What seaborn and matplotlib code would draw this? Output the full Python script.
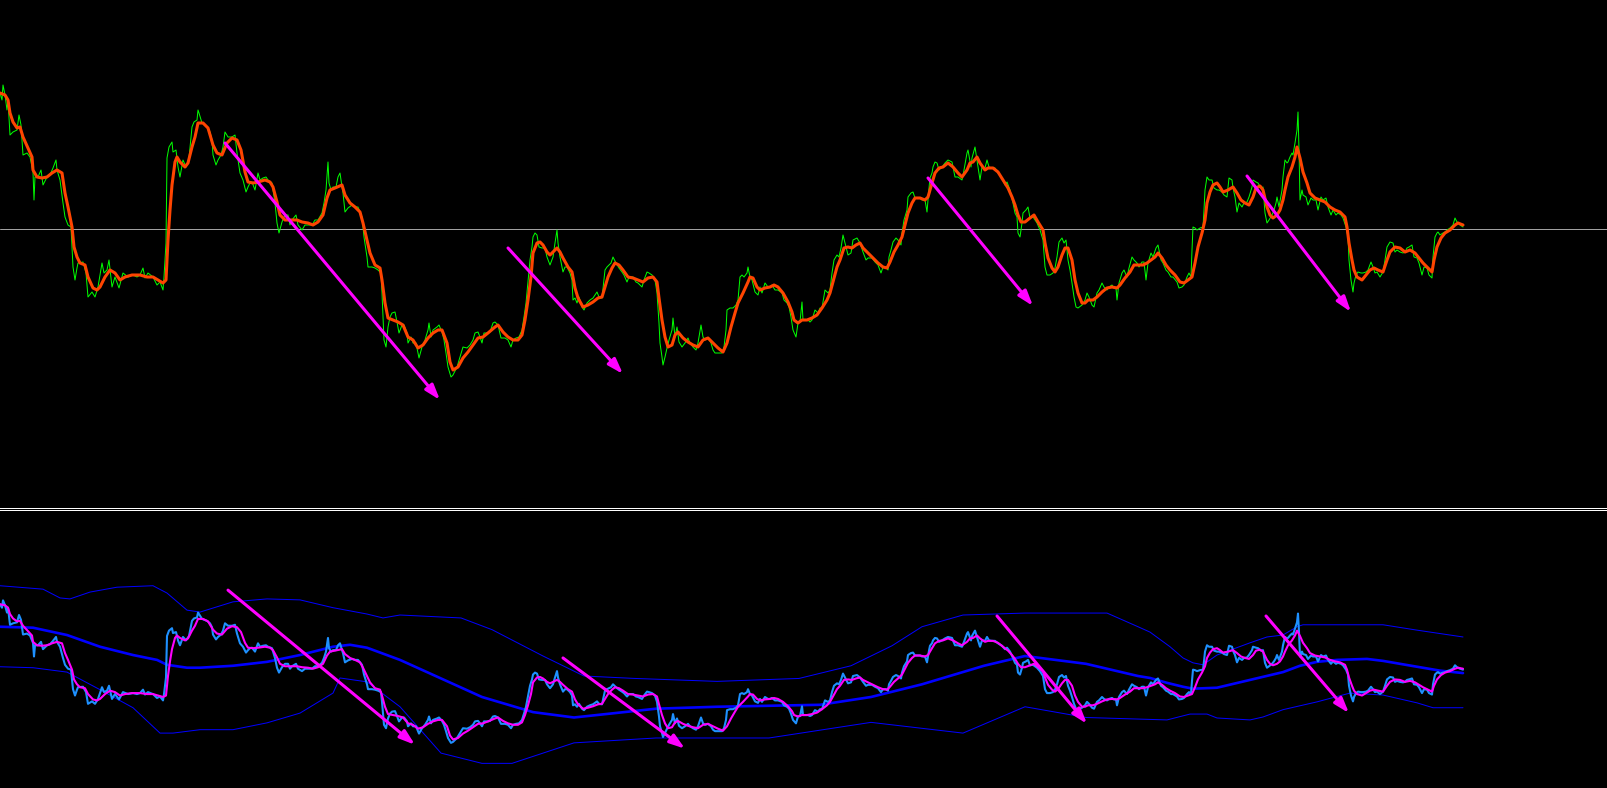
import matplotlib
matplotlib.use("Agg")
import matplotlib.pyplot as plt
import seaborn as sns
import pandas as pd

# ---------------- data (bar index, price) ----------------
price_points = [
(0,407),(2,400),(3,415),(5,405),(7,390),(8,400),(10,365),(13,368),(17,370),(19,385),(21,375),(23,345),
(27,347),(30,343),(33,328),(34,300),(35,323),(38,323),(41,330),(43,315),(47,323),(50,325),(53,332),(56,340),
(57,330),(60,320),(63,297),(65,283),(68,275),(71,273),(72,253),(73,233),(75,220),(77,232),(78,237),(83,238),
(86,227),(88,203),(92,208),(95,203),(98,213),(102,237),(104,227),(107,230),(109,240),(112,213),(115,223),
(119,212),(123,227),(128,223),(133,225),(137,223),(140,225),(143,232),(145,222),(148,227),(153,223),(157,215),
(160,218),(163,210),(164,223),(166,257),(167,342),(169,353),(172,358),(173,348),(176,350),(178,333),(180,323),
(183,340),(186,333),(189,342),(192,373),(194,378),(197,380),(198,390),(199,387),(202,377),(207,373),(210,368),
(212,360),(213,345),(216,335),(218,340),(221,345),(223,353),(225,368),(228,363),(232,363),(235,365),(237,347),
(240,327),(243,320),(246,308),(248,313),(250,317),(252,318),(255,310),(258,327),(260,320),(263,322),(266,323),
(268,320),(272,317),(275,297),(277,277),(279,267),(282,278),(285,285),(288,285),(290,275),(292,280),(296,285),
(298,275),(302,270),(305,275),(308,275),(312,275),(315,280),(318,280),(322,287),(324,297),(326,310),(328,338),
(329,317),(331,310),(333,313),(336,313),(338,323),(340,327),(342,313),(343,307),(345,288),(348,292),(352,295),
(355,293),(358,293),(362,283),(364,263),(367,243),(368,233),(372,233),(375,232),(378,230),(381,227),(382,207),
(384,160),(386,153),(388,173),(390,183),(392,187),(395,188),(397,178),(399,167),(402,175),(404,175),(407,167),
(408,157),(411,163),(413,157),(416,157),(418,147),(419,142),(422,153),(425,160),(428,170),(429,177),(431,163),
(433,170),(437,173),(439,175),(442,168),(444,160),(446,147),(448,133),(451,123),(453,125),(457,133),(460,143),
(463,153),(467,152),(470,155),(473,160),(475,167),(478,168),(480,163),(482,157),(484,167),(488,167),(490,168),
(493,177),(495,178),(498,175),(501,162),(505,162),(508,160),(511,153),(513,160),(516,162),(519,163),(522,170),
(524,183),(526,197),(528,218),(530,240),(532,253),(533,263),(535,267),(537,265),(539,253),(542,252),(545,252),
(547,243),(550,235),(553,243),(555,257),(557,270),(558,257),(560,243),(563,228),(565,233),(567,233),(570,227),
(572,220),(573,200),(575,202),(577,197),(579,203),(582,193),(584,190),(587,197),(590,200),(593,202),(597,208),
(599,203),(602,202),(605,230),(607,233),(611,237),(613,243),(616,237),(619,232),(622,228),(624,225),(627,218),
(629,223),(633,223),(636,218),(638,217),(642,213),(644,220),(647,228),(649,227),(652,225),(655,220),(657,207),
(659,177),(660,157),(662,143),(663,135),(665,143),(667,152),(669,160),(672,170),(673,182),(675,163),(677,173),
(679,158),(682,153),(685,157),(688,162),(690,157),(693,153),(696,150),(698,157),(701,175),(703,163),(705,160),
(708,162),(711,157),(713,150),(715,147),(718,147),(722,147),(724,153),(726,170),(727,190),(730,192),(733,192),
(736,195),(738,200),(740,223),(742,225),(744,223),(747,227),(748,233),(750,223),(752,220),(755,208),(758,205),
(760,213),(762,207),(765,217),(768,213),(770,213),(772,215),(775,210),(778,210),(782,207),(784,200),(787,197),
(789,193),(791,183),(793,170),(796,163),(798,177),(800,178),(802,198),(803,180),(805,180),(808,180),(810,178),
(812,180),(815,190),(818,187),(820,192),(822,192),(825,210),(828,207),(830,210),(832,227),(834,240),(837,245),
(839,243),(841,252),(843,265),(846,253),(848,245),(851,247),(853,260),(857,262),(860,257),(863,248),(866,240),
(868,242),(872,242),(875,238),(878,235),(881,227),(883,233),(886,233),(888,230),(889,243),(891,250),(893,258),
(896,262),(898,260),(901,255),(902,267),(904,280),(907,290),(908,303),(911,307),(913,308),(915,302),(918,302),
(920,302),(922,300),(925,300),(927,288),(929,312),(930,322),(932,327),(933,333),(935,338),(937,337),(939,330),
(942,333),(945,337),(948,340),(952,338),(955,323),(958,323),(962,320),(964,330),(967,347),(968,350),(971,333),
(972,342),(975,353),(978,333),(980,320),(982,333),(985,332),(987,340),(989,333),(992,332),(995,332),(998,327),
(1002,322),(1005,315),(1007,318),(1010,310),(1013,297),(1015,287),(1017,283),(1018,267),(1020,263),(1022,277),
(1023,287),(1026,290),(1028,293),(1030,282),(1033,283),(1037,277),(1040,270),(1043,260),(1045,233),(1047,225),
(1050,225),(1053,227),(1055,232),(1057,243),(1059,258),(1062,262),(1064,257),(1066,260),(1068,240),(1070,230),
(1072,217),(1074,203),(1076,193),(1078,192),(1082,195),(1085,200),(1087,207),(1089,203),(1092,195),(1094,193),
(1097,207),(1099,210),(1102,217),(1104,213),(1107,210),(1109,213),(1112,215),(1114,212),(1116,212),(1117,200),
(1119,217),(1122,227),(1124,230),(1127,223),(1129,232),(1132,243),(1134,240),(1137,237),(1139,233),(1142,238),
(1144,238),(1146,220),(1148,237),(1151,247),(1153,243),(1156,252),(1158,255),(1161,240),(1163,237),(1166,230),
(1168,228),(1171,223),(1173,223),(1177,218),(1179,212),(1182,213),(1184,215),(1187,223),(1189,227),(1191,223),
(1192,250),(1193,273),(1195,272),(1197,270),(1200,272),(1203,273),(1204,290),(1205,310),(1207,323),(1209,320),
(1212,320),(1214,312),(1217,310),(1219,310),(1222,308),(1224,305),(1227,303),(1229,322),(1232,320),(1233,312),
(1235,303),(1237,288),(1239,297),(1242,293),(1244,297),(1247,298),(1249,303),(1252,313),(1253,320),(1256,318),
(1258,317),(1261,312),(1263,313),(1265,287),(1267,277),(1269,280),(1272,285),(1274,290),(1276,297),(1277,303),
(1279,293),(1282,310),(1283,323),(1285,340),(1287,337),(1288,338),(1290,343),(1292,347),(1293,345),(1295,357),
(1297,370),(1298,388),(1299,350),(1300,300),(1302,310),(1303,305),(1306,303),(1308,295),(1311,302),(1313,300),
(1316,300),(1318,290),(1321,303),(1323,300),(1326,302),(1328,293),(1331,285),(1333,290),(1336,285),(1338,287),
(1341,285),(1343,282),(1346,273),(1348,263),(1349,240),(1351,220),(1353,208),(1354,217),(1356,225),(1358,228),
(1361,227),(1363,227),(1366,228),(1368,230),(1371,238),(1373,233),(1375,227),(1377,228),(1380,223),(1383,228),
(1385,240),(1387,253),(1390,258),(1393,257),(1395,248),(1397,250),(1400,248),(1403,247),(1405,248),(1407,252),
(1409,253),(1412,255),(1414,243),(1417,242),(1419,237),(1422,225),(1424,233),(1427,232),(1429,225),(1432,222),
(1433,243),(1435,263),(1437,267),(1438,268),(1440,265),(1443,267),(1445,268),(1447,270),(1450,272),(1453,275),
(1455,282),(1457,278),(1460,275),(1463,273),
]

ma_points = [
(0,407),(5,405),(8,400),(10,387),(13,378),(17,372),(20,373),(23,363),(28,352),(32,343),(33,330),(37,323),
(42,322),(47,323),(52,327),(57,330),(62,327),(65,307),(68,293),(72,273),(74,253),(77,243),(80,237),(85,235),
(88,223),(93,212),(97,210),(100,213),(105,223),(110,230),(115,227),(120,220),(125,223),(132,225),(140,225),
(147,223),(153,223),(158,220),(163,217),(166,220),(168,260),(170,290),(172,315),(175,338),(177,343),(180,338),
(185,333),(188,337),(192,353),(195,363),(198,377),(203,377),(208,372),(213,355),(217,347),(222,345),(227,357),
(232,362),(237,360),(241,350),(245,328),(248,318),(253,317),(258,318),(265,320),(270,318),(273,313),(277,298),
(280,285),(285,280),(292,280),(297,280),(302,278),(308,277),(313,275),(318,278),(323,285),(327,302),(330,310),
(335,312),(342,315),(345,305),(350,297),(355,293),(360,288),(363,277),(367,260),(370,247),(375,235),(380,232),
(382,220),(385,197),(388,182),(393,180),(398,178),(403,175),(408,163),(413,160),(418,152),(423,155),(428,162),
(433,167),(438,170),(442,170),(447,157),(450,138),(453,130),(458,133),(463,142),(468,148),(473,155),(478,162),
(483,163),(488,167),(495,173),(498,175),(503,168),(508,163),(513,160),(518,160),(522,165),(525,180),(528,200),
(531,223),(533,247),(537,257),(540,258),(543,255),(547,248),(550,245),(553,248),(557,252),(560,248),(563,242),
(568,233),(572,228),(575,212),(578,202),(583,193),(588,195),(593,198),(598,202),(602,203),(605,213),(608,223),
(612,232),(615,237),(619,235),(623,230),(628,223),(633,222),(638,220),(643,218),(648,222),(653,223),(657,218),
(659,202),(662,180),(665,163),(668,153),(672,155),(675,165),(678,168),(683,162),(688,158),(693,155),(698,153),
(703,160),(708,162),(713,157),(718,152),(723,148),(727,157),(731,173),(735,187),(738,197),(743,207),(748,218),
(750,223),(753,222),(757,213),(760,210),(765,212),(770,213),(774,215),(778,213),(783,207),(788,198),(792,188),
(794,180),(798,177),(802,180),(807,180),(812,182),(817,185),(822,192),(827,200),(830,207),(833,218),(837,233),
(840,240),(844,252),(848,253),(852,252),(856,255),(860,257),(863,252),(868,247),(873,242),(878,237),(883,233),
(887,232),(890,238),(894,248),(898,255),(902,263),(905,275),(908,287),(912,297),(915,302),(920,302),(925,300),
(928,303),(932,317),(935,327),(939,332),(943,333),(948,337),(953,333),(958,327),(962,323),(967,330),(970,337),
(973,338),(977,343),(980,337),(985,330),(988,332),(993,332),(998,328),(1003,320),(1008,312),(1012,303),
(1015,295),(1018,285),(1021,278),(1025,278),(1030,282),(1034,285),(1038,278),(1043,270),(1045,257),(1048,242),
(1052,232),(1055,228),(1058,233),(1062,245),(1065,252),(1068,252),(1072,240),(1075,220),(1078,207),(1082,197),
(1085,197),(1088,200),(1093,200),(1097,203),(1102,208),(1107,212),(1112,213),(1117,212),(1120,215),(1125,222),
(1130,228),(1134,235),(1138,235),(1143,235),(1147,237),(1151,240),(1155,243),(1158,247),(1162,242),(1166,235),
(1170,230),(1175,225),(1180,218),(1184,217),(1188,220),(1192,223),(1195,237),(1198,253),(1202,267),(1205,280),
(1207,297),(1210,308),(1213,315),(1217,317),(1220,313),(1223,308),(1228,310),(1233,313),(1237,307),(1241,300),
(1245,297),(1249,295),(1253,303),(1256,312),(1260,314),(1263,310),(1267,293),(1270,285),(1273,282),(1277,285),
(1280,290),(1283,300),(1285,310),(1288,323),(1292,333),(1295,343),(1297,353),(1300,342),(1303,328),(1307,317),
(1310,307),(1315,302),(1320,300),(1325,298),(1330,293),(1335,290),(1340,288),(1345,283),(1347,273),(1349,257),
(1352,240),(1354,230),(1357,223),(1362,220),(1366,225),(1370,230),(1374,232),(1378,230),(1383,228),(1387,240),
(1390,248),(1395,253),(1400,252),(1405,248),(1410,250),(1415,247),(1419,242),(1423,237),(1427,233),(1432,228),
(1434,240),(1437,253),(1441,262),(1445,267),(1450,270),(1455,275),(1458,277),(1463,275),
]

band_upper_points = [
(0,445),(43,438),(60,420),(70,418),(90,432),(117,442),(153,445),(167,430),(187,395),(200,391),(233,412),
(267,418),(300,416),(333,400),(367,387),(383,379),(400,385),(461,379),(492,355),(543,301),(584,260),(635,255),
(717,249),(799,255),(851,281),(892,322),(922,361),(963,385),(1025,389),(1107,389),(1138,361),(1150,350),
(1170,320),(1183,297),(1193,287),(1203,283),(1217,303),(1250,328),(1267,340),(1283,344),(1297,361),(1303,365),
(1383,365),(1417,354),(1463,340),
]
band_mid_points = [
(0,361),(33,359),(67,344),(100,320),(133,303),(157,293),(167,283),(187,277),(200,277),(233,281),(267,289),
(300,303),(333,320),(350,324),(367,318),(400,293),(482,217),(533,186),(574,175),(656,193),(717,197),(820,201),
(871,217),(922,243),(984,281),(1025,301),(1086,285),(1138,260),(1150,256),(1167,246),(1183,238),(1193,234),
(1217,236),(1250,252),(1283,268),(1300,281),(1317,289),(1337,293),(1367,295),(1383,291),(1417,279),(1440,271),
(1463,266),
]
band_lower_points = [
(0,279),(33,277),(67,268),(100,232),(133,195),(160,143),(173,143),(200,150),(233,150),(267,164),(300,184),
(333,225),(340,256),(367,248),(400,197),(441,102),(482,81),(512,81),(543,102),(574,123),(656,133),(769,133),
(871,165),(963,143),(1025,197),(1086,175),(1167,170),(1190,182),(1207,182),(1217,174),(1250,170),(1263,176),
(1283,191),(1317,207),(1350,225),(1383,221),(1417,205),(1433,195),(1463,195),
]

reference_level = 271

# trend arrows: (start bar, start price, end bar, end price)
top_arrows = [(225,357,440,100),(508,252,623,126),(928,322,1033,194),(1247,324,1351,188)]
bottom_arrows = [(228,436,415,119),(563,297,685,111),(997,383,1087,162),(1266,383,1349,184)]

# ---------------- figure ----------------
sns.set_theme(style="dark", rc={"axes.facecolor": "black", "figure.facecolor": "black"})
W, H = 1607, 788
fig = plt.figure(figsize=(W / 100, H / 100), dpi=100)
ax_top = fig.add_axes([0, (H - 508) / H, 1, 508 / H])
ax_bot = fig.add_axes([0, 0, 1, (H - 510) / H])

def df_of(points):
    b, v = zip(*points)
    return pd.DataFrame({"bar": b, "value": v})

price = df_of(price_points)
ma = df_of(ma_points)
up = df_of(band_upper_points)
mid = df_of(band_mid_points)
low = df_of(band_lower_points)

px = 0.72  # one pixel in points
arrow_style = dict(arrowstyle="-|>,head_length=0.9,head_width=0.3", color="#ff00ff",
                   lw=2.2, shrinkA=0, shrinkB=0, mutation_scale=10)

# top panel
ax_top.axhline(reference_level, color="#a0a0a0", lw=px)
sns.lineplot(data=price, x="bar", y="value", ax=ax_top, color="#00ff00", lw=px, estimator=None, sort=False)
sns.lineplot(data=ma, x="bar", y="value", ax=ax_top, color="#ff4500", lw=2.2, estimator=None, sort=False)
for x0, y0, x1, y1 in top_arrows:
    ax_top.annotate("", xy=(x1, y1), xytext=(x0, y0), arrowprops=arrow_style)

# bottom panel
sns.lineplot(data=up, x="bar", y="value", ax=ax_bot, color="#0000ff", lw=px, estimator=None, sort=False)
sns.lineplot(data=low, x="bar", y="value", ax=ax_bot, color="#0000ff", lw=px, estimator=None, sort=False)
sns.lineplot(data=mid, x="bar", y="value", ax=ax_bot, color="#0000ff", lw=1.9, estimator=None, sort=False)
sns.lineplot(data=price, x="bar", y="value", ax=ax_bot, color="#1e90ff", lw=1.5, estimator=None, sort=False)
sns.lineplot(data=ma, x="bar", y="value", ax=ax_bot, color="#ff00ff", lw=1.5, estimator=None, sort=False)
for x0, y0, x1, y1 in bottom_arrows:
    ax_bot.annotate("", xy=(x1, y1), xytext=(x0, y0), arrowprops=arrow_style)

ax_top.set_xlim(0, W)
ax_top.set_ylim(-8, 500)
ax_bot.set_xlim(0, W)
ax_bot.set_ylim(30.5, 600.2)

for ax in (ax_top, ax_bot):
    ax.set_xticks([])
    ax.set_yticks([])
    ax.set_xlabel("")
    ax.set_ylabel("")
    ax.grid(False)
    for s in ax.spines.values():
        s.set_visible(False)
ax_top.spines["bottom"].set_visible(True)
ax_top.spines["bottom"].set_color("white")
ax_top.spines["bottom"].set_linewidth(px)
ax_bot.spines["top"].set_visible(True)
ax_bot.spines["top"].set_color("white")
ax_bot.spines["top"].set_linewidth(px)

fig.savefig("out.png", dpi=100, facecolor="black")
